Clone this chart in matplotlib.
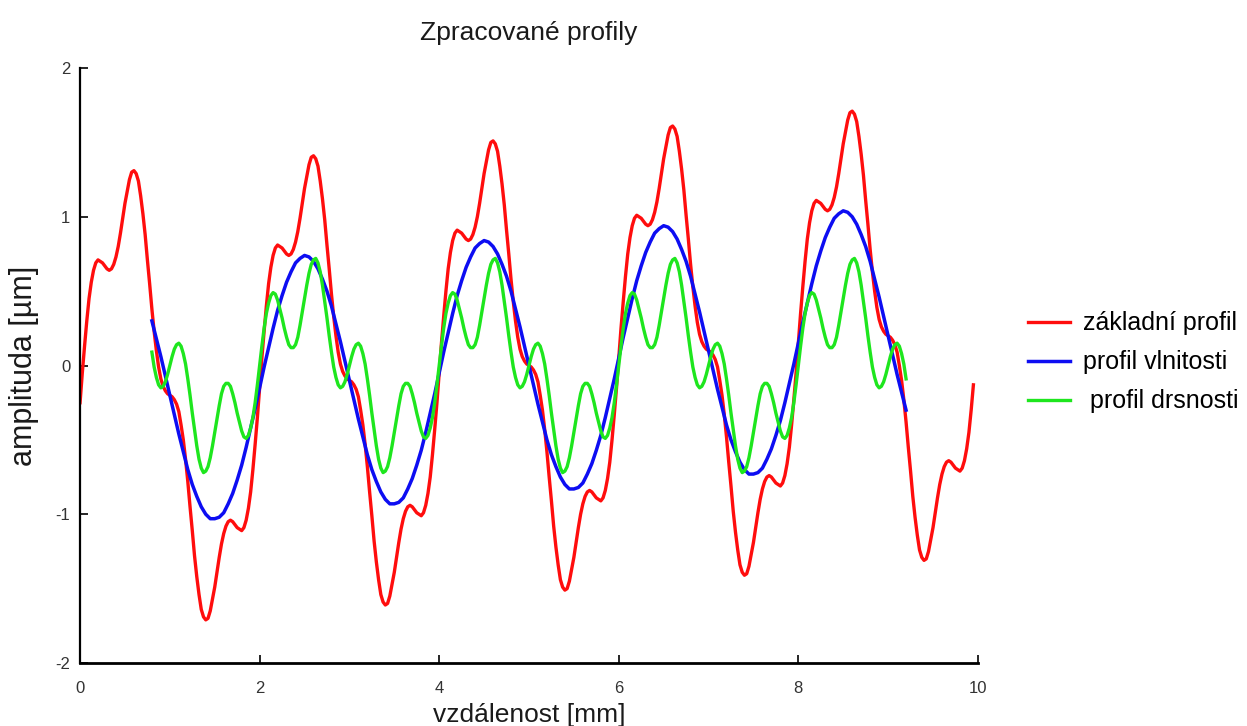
import numpy as np
import matplotlib
matplotlib.use("Agg")
import matplotlib.pyplot as plt

# ---- data ----
title = "Zpracované profily"
xlabel = "vzdálenost [mm]"
ylabel = "amplituda [µm]"
labels = ["základní profil", "profil vlnitosti", " profil drsnosti"]
xticks = [0, 2, 4, 6, 8, 10]
yticks = [-2, -1, 0, 1, 2]

red_x0, red_step = 0.0, 0.025      # base profile sampled every 0.025 mm
green_x0, green_step = 0.8, 0.025  # roughness profile
blue_x0, blue_step = 0.8, 0.05     # waviness profile

# base profile (základní profil), x = 0.000 ... 9.950
red = [
    -0.25, -0.05, 0.13, 0.30, 0.45, 0.56, 0.64, 0.69, 0.71, 0.70,
    0.69, 0.67, 0.65, 0.64, 0.65, 0.68, 0.73, 0.80, 0.89, 0.99,
    1.09, 1.17, 1.25, 1.30, 1.31, 1.29, 1.24, 1.14, 1.02, 0.88,
    0.71, 0.55, 0.38, 0.23, 0.10, -0.01, -0.09, -0.14, -0.17, -0.19,
    -0.20, -0.21, -0.23, -0.26, -0.31, -0.40, -0.50, -0.63, -0.78, -0.95,
    -1.11, -1.28, -1.42, -1.54, -1.64, -1.69, -1.71, -1.70, -1.65, -1.57,
    -1.49, -1.39, -1.29, -1.20, -1.13, -1.08, -1.05, -1.04, -1.05, -1.07,
    -1.09, -1.10, -1.11, -1.09, -1.04, -0.96, -0.85, -0.70, -0.53, -0.35,
    -0.15, 0.05, 0.23, 0.40, 0.55, 0.66, 0.74, 0.79, 0.81, 0.80,
    0.79, 0.77, 0.75, 0.74, 0.75, 0.78, 0.83, 0.90, 0.99, 1.09,
    1.19, 1.27, 1.35, 1.40, 1.41, 1.39, 1.34, 1.24, 1.12, 0.98,
    0.81, 0.65, 0.48, 0.33, 0.20, 0.09, 0.01, -0.04, -0.07, -0.09,
    -0.10, -0.11, -0.13, -0.16, -0.21, -0.30, -0.40, -0.53, -0.68, -0.85,
    -1.01, -1.18, -1.32, -1.44, -1.54, -1.59, -1.61, -1.60, -1.55, -1.47,
    -1.39, -1.29, -1.19, -1.10, -1.03, -0.98, -0.95, -0.94, -0.95, -0.97,
    -0.99, -1.00, -1.01, -0.99, -0.94, -0.86, -0.75, -0.60, -0.43, -0.25,
    -0.05, 0.15, 0.33, 0.50, 0.65, 0.76, 0.84, 0.89, 0.91, 0.90,
    0.89, 0.87, 0.85, 0.84, 0.85, 0.88, 0.93, 1.00, 1.09, 1.19,
    1.29, 1.37, 1.45, 1.50, 1.51, 1.49, 1.44, 1.34, 1.22, 1.08,
    0.91, 0.75, 0.58, 0.43, 0.30, 0.19, 0.11, 0.06, 0.03, 0.01,
    0.00, -0.01, -0.03, -0.06, -0.11, -0.20, -0.30, -0.43, -0.58, -0.75,
    -0.91, -1.08, -1.22, -1.34, -1.44, -1.49, -1.51, -1.50, -1.45, -1.37,
    -1.29, -1.19, -1.09, -1.00, -0.93, -0.88, -0.85, -0.84, -0.85, -0.87,
    -0.89, -0.90, -0.91, -0.89, -0.84, -0.76, -0.65, -0.50, -0.33, -0.15,
    0.05, 0.25, 0.43, 0.60, 0.75, 0.86, 0.94, 0.99, 1.01, 1.00,
    0.99, 0.97, 0.95, 0.94, 0.95, 0.98, 1.03, 1.10, 1.19, 1.29,
    1.39, 1.47, 1.55, 1.60, 1.61, 1.59, 1.54, 1.44, 1.32, 1.18,
    1.01, 0.85, 0.68, 0.53, 0.40, 0.29, 0.21, 0.16, 0.13, 0.11,
    0.10, 0.09, 0.07, 0.04, -0.01, -0.10, -0.20, -0.33, -0.48, -0.65,
    -0.81, -0.98, -1.12, -1.24, -1.34, -1.39, -1.41, -1.40, -1.35, -1.27,
    -1.19, -1.09, -0.99, -0.90, -0.83, -0.78, -0.75, -0.74, -0.75, -0.77,
    -0.79, -0.80, -0.81, -0.79, -0.74, -0.66, -0.55, -0.40, -0.23, -0.05,
    0.15, 0.35, 0.53, 0.70, 0.85, 0.96, 1.04, 1.09, 1.11, 1.10,
    1.09, 1.07, 1.05, 1.04, 1.05, 1.08, 1.13, 1.20, 1.29, 1.39,
    1.49, 1.57, 1.65, 1.70, 1.71, 1.69, 1.64, 1.54, 1.42, 1.28,
    1.11, 0.95, 0.78, 0.63, 0.50, 0.39, 0.31, 0.26, 0.23, 0.21,
    0.20, 0.19, 0.17, 0.14, 0.09, 0.00, -0.10, -0.23, -0.38, -0.55,
    -0.71, -0.88, -1.02, -1.14, -1.24, -1.29, -1.31, -1.30, -1.25, -1.17,
    -1.09, -0.99, -0.89, -0.80, -0.73, -0.68, -0.65, -0.64, -0.65, -0.67,
    -0.69, -0.70, -0.71, -0.69, -0.64, -0.56, -0.45, -0.30, -0.13,
]

# waviness profile (profil vlnitosti), x = 0.80 ... 9.20
blue = [
    0.30, 0.18, 0.06, -0.07, -0.20, -0.33, -0.46, -0.58, -0.70, -0.80,
    -0.88, -0.95, -1.00, -1.03, -1.03, -1.02, -0.99, -0.93, -0.86, -0.77,
    -0.67, -0.55, -0.42, -0.29,
    -0.15, -0.01, 0.12, 0.25, 0.37, 0.47, 0.56, 0.63, 0.69, 0.72,
    0.74, 0.73, 0.70, 0.65, 0.58, 0.50, 0.40, 0.28, 0.16, 0.03,
    -0.10, -0.23, -0.36, -0.48, -0.60, -0.70, -0.78, -0.85, -0.90, -0.93,
    -0.93, -0.92, -0.89, -0.83, -0.76, -0.67, -0.57, -0.45, -0.32, -0.19,
    -0.05, 0.09, 0.22, 0.35, 0.47, 0.57, 0.66, 0.73, 0.79, 0.82,
    0.84, 0.83, 0.80, 0.75, 0.68, 0.60, 0.50, 0.38, 0.26, 0.13,
    0.00, -0.13, -0.26, -0.38, -0.50, -0.60, -0.68, -0.75, -0.80, -0.83,
    -0.83, -0.82, -0.79, -0.73, -0.66, -0.57, -0.47, -0.35, -0.22, -0.09,
    0.05, 0.19, 0.32, 0.45, 0.57, 0.67, 0.76, 0.83, 0.89, 0.92,
    0.94, 0.93, 0.90, 0.85, 0.78, 0.70, 0.60, 0.48, 0.36, 0.23,
    0.10, -0.03, -0.16, -0.28, -0.40, -0.50, -0.58, -0.65, -0.70, -0.73,
    -0.73, -0.72, -0.69, -0.63, -0.56, -0.47, -0.37, -0.25, -0.12, 0.01,
    0.15, 0.29, 0.42, 0.55, 0.67, 0.77, 0.86, 0.93, 0.99, 1.02,
    1.04, 1.03, 1.00, 0.95, 0.88, 0.80, 0.70, 0.58, 0.46, 0.33,
    0.20, 0.07, -0.06, -0.18, -0.30,
]

# roughness profile (profil drsnosti), x = 0.800 ... 9.200
green = [
    0.09, -0.01, -0.08, -0.13, -0.15, -0.14, -0.11, -0.06,
    0.00, 0.06, 0.11, 0.14, 0.15, 0.13, 0.08, 0.01, -0.09, -0.20,
    -0.32, -0.43, -0.54, -0.63, -0.69, -0.72, -0.71, -0.68, -0.62, -0.54,
    -0.45, -0.36, -0.27, -0.19, -0.14, -0.12, -0.12, -0.14, -0.19, -0.25,
    -0.32, -0.38, -0.44, -0.48, -0.49, -0.47, -0.42, -0.35, -0.25, -0.13,
    0.00, 0.13, 0.25, 0.35, 0.42, 0.47, 0.49, 0.48, 0.44, 0.38,
    0.32, 0.25, 0.19, 0.14, 0.12, 0.12, 0.14, 0.19, 0.27, 0.36,
    0.45, 0.54, 0.62, 0.68, 0.71, 0.72, 0.69, 0.63, 0.54, 0.43,
    0.32, 0.20, 0.09, -0.01, -0.08, -0.13, -0.15, -0.14, -0.11, -0.06,
    0.00, 0.06, 0.11, 0.14, 0.15, 0.13, 0.08, 0.01, -0.09, -0.20,
    -0.32, -0.43, -0.54, -0.63, -0.69, -0.72, -0.71, -0.68, -0.62, -0.54,
    -0.45, -0.36, -0.27, -0.19, -0.14, -0.12, -0.12, -0.14, -0.19, -0.25,
    -0.32, -0.38, -0.44, -0.48, -0.49, -0.47, -0.42, -0.35, -0.25, -0.13,
    0.00, 0.13, 0.25, 0.35, 0.42, 0.47, 0.49, 0.48, 0.44, 0.38,
    0.32, 0.25, 0.19, 0.14, 0.12, 0.12, 0.14, 0.19, 0.27, 0.36,
    0.45, 0.54, 0.62, 0.68, 0.71, 0.72, 0.69, 0.63, 0.54, 0.43,
    0.32, 0.20, 0.09, -0.01, -0.08, -0.13, -0.15, -0.14, -0.11, -0.06,
    0.00, 0.06, 0.11, 0.14, 0.15, 0.13, 0.08, 0.01, -0.09, -0.20,
    -0.32, -0.43, -0.54, -0.63, -0.69, -0.72, -0.71, -0.68, -0.62, -0.54,
    -0.45, -0.36, -0.27, -0.19, -0.14, -0.12, -0.12, -0.14, -0.19, -0.25,
    -0.32, -0.38, -0.44, -0.48, -0.49, -0.47, -0.42, -0.35, -0.25, -0.13,
    0.00, 0.13, 0.25, 0.35, 0.42, 0.47, 0.49, 0.48, 0.44, 0.38,
    0.32, 0.25, 0.19, 0.14, 0.12, 0.12, 0.14, 0.19, 0.27, 0.36,
    0.45, 0.54, 0.62, 0.68, 0.71, 0.72, 0.69, 0.63, 0.54, 0.43,
    0.32, 0.20, 0.09, -0.01, -0.08, -0.13, -0.15, -0.14, -0.11, -0.06,
    0.00, 0.06, 0.11, 0.14, 0.15, 0.13, 0.08, 0.01, -0.09, -0.20,
    -0.32, -0.43, -0.54, -0.63, -0.69, -0.72, -0.71, -0.68, -0.62, -0.54,
    -0.45, -0.36, -0.27, -0.19, -0.14, -0.12, -0.12, -0.14, -0.19, -0.25,
    -0.32, -0.38, -0.44, -0.48, -0.49, -0.47, -0.42, -0.35, -0.25, -0.13,
    0.00, 0.13, 0.25, 0.35, 0.42, 0.47, 0.49, 0.48, 0.44, 0.38,
    0.32, 0.25, 0.19, 0.14, 0.12, 0.12, 0.14, 0.19, 0.27, 0.36,
    0.45, 0.54, 0.62, 0.68, 0.71, 0.72, 0.69, 0.63, 0.54, 0.43,
    0.32, 0.20, 0.09, -0.01, -0.08, -0.13, -0.15, -0.14, -0.11, -0.06,
    0.00, 0.06, 0.11, 0.14, 0.15, 0.13, 0.08, 0.01, -0.09,
]

colors = ["#ff0d0d", "#0d0df2", "#1ee61e"]

plt.rcParams["font.family"] = ["Liberation Sans", "DejaVu Sans"]

fig = plt.figure(figsize=(12.47, 7.26), dpi=100)
ax = fig.add_axes([0.0642, 0.0868, 0.7200, 0.8195])

x_red = red_x0 + red_step * np.arange(len(red))
x_green = green_x0 + green_step * np.arange(len(green))
x_blue = blue_x0 + blue_step * np.arange(len(blue))

l1, = ax.plot(x_red, red, color=colors[0], lw=2.4, label=labels[0],
              solid_joinstyle="round")
l2, = ax.plot(x_blue, blue, color=colors[1], lw=2.5, label=labels[1],
              solid_joinstyle="round")
l3, = ax.plot(x_green, green, color=colors[2], lw=2.4, label=labels[2],
              solid_joinstyle="round")

ax.set_xlim(0, 10)
ax.set_ylim(-2, 2)
ax.set_xticks(xticks)
ax.set_yticks(yticks)
ax.set_xticklabels([str(v) for v in xticks])
ax.set_yticklabels([str(v) for v in yticks])

for s in ["top", "right"]:
    ax.spines[s].set_visible(False)
ax.spines["left"].set_linewidth(1.6)
ax.spines["bottom"].set_linewidth(2.0)
ax.tick_params(direction="in", length=6, width=1.2, labelsize=12,
               labelcolor="#333333")
ax.tick_params(axis="x", pad=13)
ax.tick_params(axis="y", pad=7)

ax.set_title(title, fontsize=19, pad=20, color="#1a1a1a")
ax.set_xlabel(xlabel, fontsize=19, color="#1a1a1a")
ax.xaxis.set_label_coords(0.5, -0.068)
ax.set_ylabel(ylabel, fontsize=22, color="#1a1a1a")
ax.yaxis.set_label_coords(-0.046, 0.5)

fig.legend(handles=[l1, l2, l3], loc="upper left",
           bbox_to_anchor=(0.806, 0.602), frameon=False,
           fontsize=18, handlelength=1.7, handletextpad=0.5,
           labelspacing=0.6)

fig.savefig("out.png", dpi=100)
